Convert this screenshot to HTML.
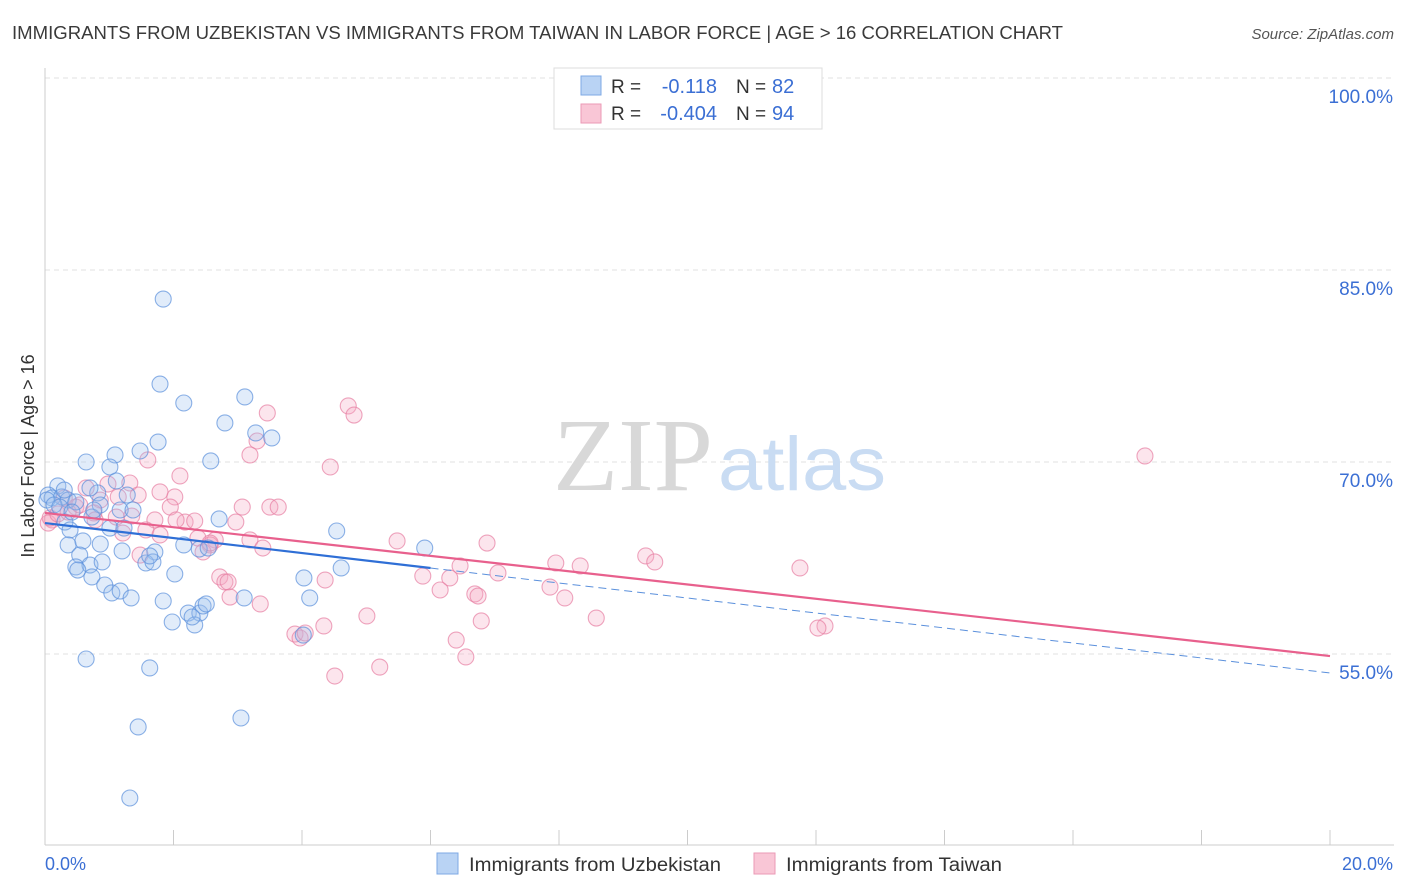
<!DOCTYPE html>
<html><head><meta charset="utf-8"><style>
body{margin:0;background:#fff;font-family:"Liberation Sans",sans-serif;}
svg{display:block}
</style></head><body>
<svg id="chart" width="1406" height="892" xmlns="http://www.w3.org/2000/svg">
<text x="12" y="39" font-size="18" fill="#3a3a3a" textLength="1051" lengthAdjust="spacingAndGlyphs">IMMIGRANTS FROM UZBEKISTAN VS IMMIGRANTS FROM TAIWAN IN LABOR FORCE | AGE &gt; 16 CORRELATION CHART</text>
<text x="1394" y="39" font-size="15" fill="#555" font-style="italic" text-anchor="end">Source: ZipAtlas.com</text>
<g id="grid"></g>
<g>
<text x="553" y="490" font-size="104" fill="#d8d8d8" font-family="Liberation Serif, serif" textLength="160" lengthAdjust="spacingAndGlyphs">ZIP</text>
<text x="718" y="490" font-size="76" fill="#c9dcf3" textLength="168" lengthAdjust="spacingAndGlyphs">atlas</text>
</g>
<g id="marks"></g>
<g id="lines"></g>
<text transform="translate(34,456) rotate(-90)" font-size="18" fill="#333" text-anchor="middle">In Labor Force | Age &gt; 16</text>
<text x="45" y="870" font-size="18" fill="#3b6fd4">0.0%</text>
<text x="1393" y="870" font-size="18" fill="#3b6fd4" text-anchor="end">20.0%</text>
<g>
<rect x="554" y="68" width="268" height="61" fill="#fff" stroke="#ddd"/>
<rect x="581" y="76" width="20" height="19" fill="#b9d3f4" stroke="#7ea8e4"/>
<rect x="581" y="104" width="20" height="19" fill="#f9c6d6" stroke="#eb9ab6"/>
<text x="611" y="93" font-size="19" fill="#333">R = </text><text x="717" y="93" font-size="20" fill="#3b6fd4" text-anchor="end">-0.118</text>
<text x="736" y="93" font-size="19" fill="#333">N = </text><text x="772" y="93" font-size="20" fill="#3b6fd4">82</text>
<text x="611" y="120" font-size="19" fill="#333">R = </text><text x="717" y="120" font-size="20" fill="#3b6fd4" text-anchor="end">-0.404</text>
<text x="736" y="120" font-size="19" fill="#333">N = </text><text x="772" y="120" font-size="20" fill="#3b6fd4">94</text>
</g>
<g>
<rect x="437" y="853" width="21" height="21" fill="#b9d3f4" stroke="#7ea8e4"/>
<text x="469" y="871" font-size="19" fill="#333" textLength="252" lengthAdjust="spacingAndGlyphs">Immigrants from Uzbekistan</text>
<rect x="754" y="853" width="21" height="21" fill="#f9c6d6" stroke="#eb9ab6"/>
<text x="786" y="871" font-size="19" fill="#333" textLength="216" lengthAdjust="spacingAndGlyphs">Immigrants from Taiwan</text>
</g>
</svg>
<script>
const yTicks=[55,70,85,100];
const yTickLabels=["55.0%","70.0%","85.0%","100.0%"];
const xTicks=[0,2,4,6,8,10,12,14,16,18,20];
const blueX=[1.84,1.79,2.16,3.11,1.76,2.80,3.28,3.53,1.48,1.09,0.64,2.58,1.01,0.20,0.05,0.11,0.26,0.36,0.48,0.82,1.28,1.11,0.70,0.86,1.17,1.37,0.73,0.31,0.39,1.01,1.23,2.71,4.54,0.36,0.86,0.59,0.54,1.20,1.71,2.16,2.40,2.54,5.91,0.48,0.70,0.51,0.89,1.57,1.68,0.73,2.02,0.93,1.04,1.17,1.34,1.84,3.10,4.03,4.12,4.61,2.23,2.41,2.46,1.98,2.33,4.02,0.64,1.63,3.05,1.45,1.32,0.03,0.14,0.23,0.42,0.30,0.76,1.63,2.51,2.29];
const blueY=[82.73,76.09,74.61,75.08,71.56,73.05,72.27,71.88,70.86,70.55,70.00,70.08,69.61,68.13,67.42,67.19,67.27,67.03,66.88,67.58,67.42,68.52,67.97,66.64,66.25,66.25,65.70,65.31,64.69,64.84,64.84,65.55,64.61,63.52,63.59,63.83,62.73,63.05,62.97,63.52,63.20,63.28,63.28,61.80,61.95,61.56,62.19,62.11,62.19,61.02,61.25,60.39,59.77,59.92,59.38,59.14,59.38,60.94,59.38,61.72,58.20,58.20,58.75,57.50,57.27,56.48,54.61,53.91,50.00,49.30,43.75,67.03,66.64,66.48,66.09,67.81,66.25,62.66,58.91,57.89];
const pinkX=[17.12,4.72,4.81,3.46,3.30,3.19,1.60,4.44,2.10,1.32,0.98,0.64,1.79,2.02,0.86,1.14,1.45,0.30,0.48,3.07,3.50,3.63,1.95,1.35,1.71,2.18,2.33,2.97,0.11,1.11,1.57,1.79,1.21,2.38,2.65,3.19,2.57,3.39,5.48,6.88,2.46,1.48,6.46,7.05,7.95,8.33,9.35,9.49,11.75,5.88,6.30,6.15,2.72,2.80,2.85,7.86,8.09,2.88,3.35,6.69,6.74,4.36,5.01,6.79,8.58,4.34,3.89,3.97,12.14,12.03,6.40,6.55,5.21,4.51,0.05,0.08,0.20,0.36,0.76,0.54,0.78,2.04,2.57,4.05];
const pinkY=[70.47,74.38,73.67,73.83,71.64,70.55,70.16,69.61,68.91,68.36,68.28,67.97,67.66,67.27,67.03,67.27,67.42,67.19,66.48,66.48,66.48,66.48,66.48,65.78,65.47,65.31,65.39,65.31,65.47,65.70,64.69,64.30,64.45,64.06,63.91,63.91,63.52,63.28,63.83,63.67,62.97,62.73,61.88,61.33,62.11,61.88,62.66,62.19,61.72,61.09,60.94,60.00,61.02,60.63,60.63,60.23,59.38,59.45,58.91,59.69,59.53,60.78,57.97,57.58,57.81,57.19,56.56,56.25,57.19,57.03,56.09,54.77,53.98,53.28,65.23,65.63,65.94,66.09,66.02,66.64,65.47,65.47,63.67,56.64];
const blueTrend=[65.23,53.52];
const pinkTrend=[66.02,54.84];
const blueSolidEnd=6.0;

const NS="http://www.w3.org/2000/svg";
const X0=45,X1=1330,YTOP=78,PX15=192;
function sx(v){return X0+(v/20)*(X1-X0);}
function sy(v){return YTOP+(100-v)/15*PX15;}
function mk(tag,a,parent){const e=document.createElementNS(NS,tag);for(const k in a)e.setAttribute(k,a[k]);parent.appendChild(e);return e;}
const grid=document.getElementById('grid');
yTicks.forEach((t,i)=>{
 const l=mk('line',{x1:X0,x2:1394,y1:sy(t),y2:sy(t),stroke:'#e2e2e2','stroke-dasharray':'5,4'},grid);
 
 
 const tx=mk('text',{x:1393,y:sy(t)+25,'font-size':19,fill:'#3b6fd4','text-anchor':'end'},grid);
 tx.textContent=yTickLabels[i];
 
 
});
const ax=mk('line',{x1:X0,x2:X0,y1:68,y2:845,stroke:'#ccc'},grid);


const bx=mk('line',{x1:X0,x2:1394,y1:845,y2:845,stroke:'#ccc'},grid);


xTicks.forEach(t=>{
 const l=mk('line',{x1:sx(t),x2:sx(t),y1:830,y2:845,stroke:'#ccc'},grid);
 
 
});
const marks=document.getElementById('marks');
function pts(xs,ys,fill,stroke,name){
 xs.forEach((x,i)=>{
  const c=mk('circle',{cx:sx(x),cy:sy(ys[i]),r:8,fill:fill,'fill-opacity':0.3,stroke:stroke,'stroke-width':1.1,'stroke-opacity':0.7},marks);
  
  
 });
}
pts(pinkX,pinkY,'#f4a9c2','#e77fa3','taiwan-point');
pts(blueX,blueY,'#9dc0ee','#5b90dc','uzbekistan-point');
const lines=document.getElementById('lines');
function ty(tr,x){return tr[0]+(tr[1]-tr[0])*x/20;}
const p=mk('line',{x1:sx(0),y1:sy(pinkTrend[0]),x2:sx(20),y2:sy(pinkTrend[1]),stroke:'#e8608d','stroke-width':2.2},lines);


const b1=mk('line',{x1:sx(0),y1:sy(blueTrend[0]),x2:sx(blueSolidEnd),y2:sy(ty(blueTrend,blueSolidEnd)),stroke:'#2f6fd6','stroke-width':2.2},lines);


const b2=mk('line',{x1:sx(blueSolidEnd),y1:sy(ty(blueTrend,blueSolidEnd)),x2:sx(20),y2:sy(blueTrend[1]),stroke:'#5b90dc','stroke-width':1,'stroke-dasharray':'8,5'},lines);


</script>
</body></html>
